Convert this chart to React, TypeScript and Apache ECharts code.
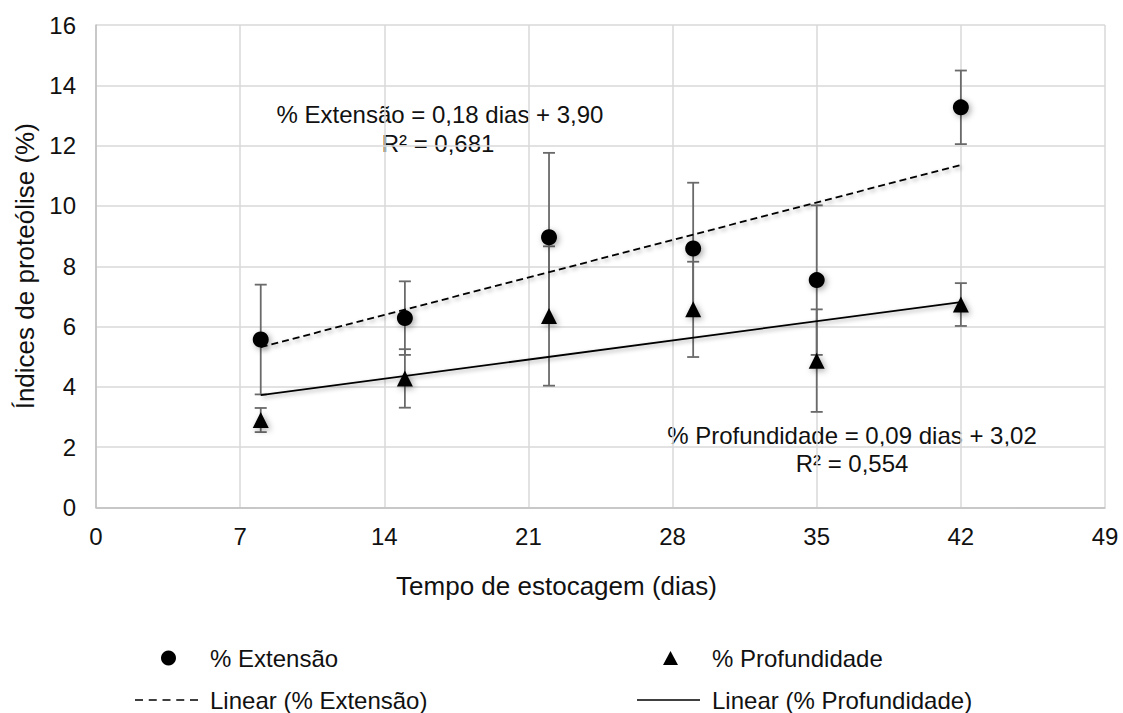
import React, { useEffect, useRef } from "react";
import * as echarts from "echarts";

const days = [8, 15, 22, 29, 35, 42];
const extensao = [5.57, 6.28, 8.96, 8.59, 7.54, 13.27];
const extensaoErr = [1.82, 1.22, 2.8, 2.18, 2.48, 1.22];
const profundidade = [2.9, 4.28, 6.35, 6.57, 4.87, 6.73];
const profundidadeErr = [0.4, 0.97, 2.31, 1.58, 1.7, 0.71];

const xTicks = { min: 0, max: 49, interval: 7 };
const yTicks = { min: 0, max: 16, interval: 2 };

const labelExt = "% Extensão = 0,18 dias + 3,90";
const labelExtR2 = "R² = 0,681";
const labelProf = "% Profundidade = 0,09 dias + 3,02";
const labelProfR2 = "R² = 0,554";

const FONT = "'Liberation Sans', Arial, sans-serif";

function linFit(x: number[], y: number[]) {
  const n = x.length;
  const mx = x.reduce((a, b) => a + b, 0) / n;
  const my = y.reduce((a, b) => a + b, 0) / n;
  let sxy = 0;
  let sxx = 0;
  for (let i = 0; i < n; i++) {
    sxy += (x[i] - mx) * (y[i] - my);
    sxx += (x[i] - mx) * (x[i] - mx);
  }
  const b = sxy / sxx;
  const a = my - b * mx;
  return (v: number) => a + b * v;
}

function errSeries(name: string, vals: number[], errs: number[]) {
  return {
    type: "custom",
    name,
    silent: true,
    z: 1,
    data: days.map((d, i) => [d, vals[i] - errs[i], vals[i] + errs[i]]),
    encode: { x: 0, y: [1, 2] },
    renderItem: (_params: any, api: any) => {
      const lo = api.coord([api.value(0), api.value(1)]);
      const hi = api.coord([api.value(0), api.value(2)]);
      const w = 6;
      const style = { stroke: "#6a6a6a", lineWidth: 1.8 };
      return {
        type: "group",
        children: [
          { type: "line", shape: { x1: lo[0], y1: lo[1], x2: hi[0], y2: hi[1] }, style },
          { type: "line", shape: { x1: lo[0] - w, y1: lo[1], x2: lo[0] + w, y2: lo[1] }, style },
          { type: "line", shape: { x1: hi[0] - w, y1: hi[1], x2: hi[0] + w, y2: hi[1] }, style },
        ],
      };
    },
  };
}

const dashIcon =
  "path://M0,0h8v1.6h-8z M13.75,0h8v1.6h-8z M27.5,0h8v1.6h-8z M41.25,0h8v1.6h-8z M55,0h8v1.6h-8z";
const solidIcon = "path://M0,0h63v1.6h-63z";
const triIcon = "path://M7,0L14,13L0,13Z";

export default function App() {
  const ref = useRef<HTMLDivElement>(null);
  useEffect(() => {
    const chart = echarts.init(ref.current!, null, { renderer: "svg" });
    const fExt = linFit(days, extensao);
    const fProf = linFit(days, profundidade);
    const x0 = days[0];
    const x1 = days[days.length - 1];
    const shadow = {
      shadowBlur: 6,
      shadowColor: "rgba(0,0,0,0.35)",
      shadowOffsetX: 2,
      shadowOffsetY: 2,
    };
    const legendText = (padLeft: number) => ({
      fontFamily: FONT,
      fontSize: 24,
      color: "#111",
      lineHeight: 24,
      padding: [0, 0, 0, padLeft],
    });
    const legendBase = {
      orient: "horizontal",
      padding: 0,
      itemHeight: 15,
      selectedMode: false,
      itemStyle: { shadowBlur: 0, shadowColor: "transparent", borderWidth: 0 },
      lineStyle: { shadowBlur: 0, shadowColor: "transparent" },
    };
    const textStyle = (x: number, y: number, text: string) => ({
      type: "text",
      x,
      y,
      style: { text, font: `24px ${FONT}`, fill: "#111", align: "center", verticalAlign: "middle" },
    });
    const option: any = {
      animation: false,
      backgroundColor: "#fff",
      grid: { left: 96, right: 18, top: 25, bottom: 205.5, containLabel: false },
      xAxis: {
        type: "value",
        ...xTicks,
        name: "Tempo de estocagem (dias)",
        nameLocation: "middle",
        nameGap: 65,
        nameTextStyle: { fontFamily: FONT, fontSize: 26, color: "#111", padding: [0, 88, 0, 0] },
        axisLine: { show: true, lineStyle: { color: "#bfbfbf", width: 1.5 } },
        axisTick: { show: false },
        axisLabel: { fontFamily: FONT, fontSize: 24, color: "#111", margin: 17 },
        splitLine: { show: true, lineStyle: { color: "#d9d9d9", width: 1.5 } },
      },
      yAxis: {
        type: "value",
        ...yTicks,
        name: "Índices de proteólise (%)",
        nameLocation: "middle",
        nameGap: 49,
        nameTextStyle: { fontFamily: FONT, fontSize: 26, color: "#111" },
        axisLine: { show: true, lineStyle: { color: "#bfbfbf", width: 1.5 } },
        axisTick: { show: false },
        axisLabel: { fontFamily: FONT, fontSize: 24, color: "#111", margin: 20 },
        splitLine: { show: true, lineStyle: { color: "#d9d9d9", width: 1.5 } },
      },
      legend: [
        {
          ...legendBase,
          left: 161,
          top: 646,
          itemWidth: 15,
          textStyle: legendText(29),
          data: [{ name: "% Extensão", icon: "circle" }],
        },
        {
          ...legendBase,
          left: 135,
          top: 688,
          itemWidth: 63,
          textStyle: legendText(7),
          data: [{ name: "Linear (% Extensão)", icon: dashIcon }],
        },
        {
          ...legendBase,
          left: 663,
          top: 646,
          itemWidth: 15,
          textStyle: legendText(29),
          data: [{ name: "% Profundidade", icon: triIcon }],
        },
        {
          ...legendBase,
          left: 637,
          top: 688,
          itemWidth: 63,
          textStyle: legendText(7),
          data: [{ name: "Linear (% Profundidade)", icon: solidIcon }],
        },
      ],
      series: [
        errSeries("errExt", extensao, extensaoErr),
        errSeries("errProf", profundidade, profundidadeErr),
        {
          type: "line",
          name: "Linear (% Extensão)",
          z: 2,
          symbol: "none",
          silent: true,
          data: [
            [x0, fExt(x0)],
            [x1, fExt(x1)],
          ],
          itemStyle: { color: "#000" },
          lineStyle: { color: "#000", width: 1.8, type: [7, 4], ...shadow, shadowBlur: 4 },
        },
        {
          type: "line",
          name: "Linear (% Profundidade)",
          z: 2,
          symbol: "none",
          silent: true,
          data: [
            [x0, fProf(x0)],
            [x1, fProf(x1)],
          ],
          itemStyle: { color: "#000" },
          lineStyle: { color: "#000", width: 1.8, ...shadow, shadowBlur: 4 },
        },
        {
          type: "scatter",
          name: "% Extensão",
          z: 3,
          symbol: "circle",
          symbolSize: 16,
          data: days.map((d, i) => [d, extensao[i]]),
          itemStyle: { color: "#000", opacity: 1, ...shadow },
        },
        {
          type: "scatter",
          name: "% Profundidade",
          z: 3,
          symbol: "triangle",
          symbolSize: 16,
          data: days.map((d, i) => [d, profundidade[i]]),
          itemStyle: { color: "#000", opacity: 1, ...shadow },
        },
      ],
      graphic: [
        textStyle(440, 114, labelExt),
        textStyle(438, 143, labelExtR2),
        textStyle(852, 435, labelProf),
        textStyle(852, 463, labelProfR2),
      ],
    };
    chart.setOption(option);
    return () => chart.dispose();
  }, []);
  return (
    <div
      ref={ref}
      style={{ position: "fixed", left: 0, top: 0, width: 1123, height: 713, background: "#fff" }}
    />
  );
}
